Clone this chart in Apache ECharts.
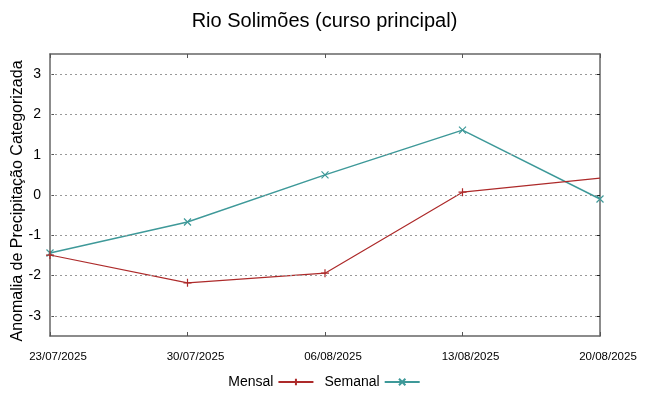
<!DOCTYPE html>
<html>
<head>
<meta charset="utf-8">
<script src="https://cdn.jsdelivr.net/npm/echarts@6/dist/echarts.min.js"></script>
<style>html,body{margin:0;padding:0;background:#fff}#c{width:649px;height:396px}</style>
</head>
<body>
<div id="c"></div>
<script>
const categories = ['23/07/2025', '30/07/2025', '06/08/2025', '13/08/2025', '20/08/2025'];
const mensal = [-1.49, -2.18, -1.94, 0.07, 0.42];
const semanal = [-1.44, -0.67, 0.50, 1.61, -0.10];
const yTicks = [-3, -2, -1, 0, 1, 2, 3];

const FONT = 'Liberation Sans';
const RED = '#ad2a2a';
const TEAL = '#3e9999';
const PLUS = 'path://M0,5L10,5M5,0L5,10';
const CROSS = 'path://M0,0L10,10M10,0L0,10';

const chart = echarts.init(document.getElementById('c'), null, {renderer: 'canvas'});
const axisLineStyle = {color: '#666', width: 1.5};
chart.setOption({
  animation: false,
  backgroundColor: '#fff',
  textStyle: {fontFamily: FONT},
  title: {
    text: 'Rio Solimões (curso principal)',
    left: 'center', top: 6,
    textStyle: {fontFamily: FONT, fontSize: 20, fontWeight: 'normal', color: '#000'}
  },
  legend: {
    bottom: 2, left: 'center', align: 'right',
    itemWidth: 35, itemHeight: 8, itemGap: 10,
    textStyle: {fontFamily: FONT, fontSize: 14, color: '#000'},
    data: ['Mensal', 'Semanal']
  },
  grid: {left: 50, right: 49, top: 54, bottom: 60, outerBoundsMode: 'none', containLabel: false},
  xAxis: [{
    type: 'category', data: categories, boundaryGap: false,
    axisLine: {onZero: false, lineStyle: axisLineStyle},
    axisTick: {inside: true, length: 4, lineStyle: {color: '#555'}},
    axisLabel: {fontFamily: FONT, fontSize: 11.5, color: '#000', margin: 15, hideOverlap: false, interval: 0, padding: [0, 0, 0, 16]},
    splitLine: {show: false}
  }, {
    type: 'category', data: categories, boundaryGap: false, position: 'top',
    axisLine: {onZero: false, lineStyle: axisLineStyle},
    axisTick: {inside: true, length: 4, lineStyle: {color: '#555'}},
    axisLabel: {show: false}, splitLine: {show: false}
  }],
  yAxis: [{
    type: 'value', min: -3.5, max: 3.5,
    axisLine: {show: true, onZero: false, lineStyle: axisLineStyle},
    axisLabel: {
      fontFamily: FONT, fontSize: 14, color: '#000', margin: 9,
      customValues: yTicks
    },
    axisTick: {show: true, inside: true, length: 4, customValues: yTicks, lineStyle: {color: '#555'}},
    splitLine: {show: false},
    name: 'Anomalia de Precipitação Categorizada',
    nameLocation: 'middle', nameGap: 24, nameMoveOverlap: false,
    nameTextStyle: {fontFamily: FONT, fontSize: 16, color: '#000', padding: [0, 12, 0, 0]}
  }, {
    type: 'value', min: -3.5, max: 3.5, position: 'right',
    axisLine: {show: true, onZero: false, lineStyle: axisLineStyle},
    axisTick: {show: true, inside: true, length: 4, customValues: yTicks, lineStyle: {color: '#222'}},
    axisLabel: {show: false},
    splitLine: {show: false}
  }],
  series: [{
    type: 'line', name: 'Mensal', data: mensal, xAxisIndex: 0, yAxisIndex: 0,
    symbol: PLUS,
    symbolSize: (v, p) => (p.dataIndex === mensal.length - 1 ? 0 : 8),
    showSymbol: true,
    lineStyle: {color: RED, width: 1.2},
    itemStyle: {color: RED, borderColor: RED, borderWidth: 1.2},
    z: 4,
    markLine: {
      silent: true, symbol: 'none', label: {show: false},
      lineStyle: {color: '#999', type: [2, 3], width: 1},
      data: yTicks.map(t => ({yAxis: t}))
    }
  }, {
    type: 'line', name: 'Semanal', data: semanal, xAxisIndex: 0, yAxisIndex: 0,
    symbol: CROSS, symbolSize: 7, showSymbol: true,
    lineStyle: {color: TEAL, width: 1.5},
    itemStyle: {color: TEAL, borderColor: TEAL, borderWidth: 1.2},
    z: 3
  }]
});
</script>
</body>
</html>
